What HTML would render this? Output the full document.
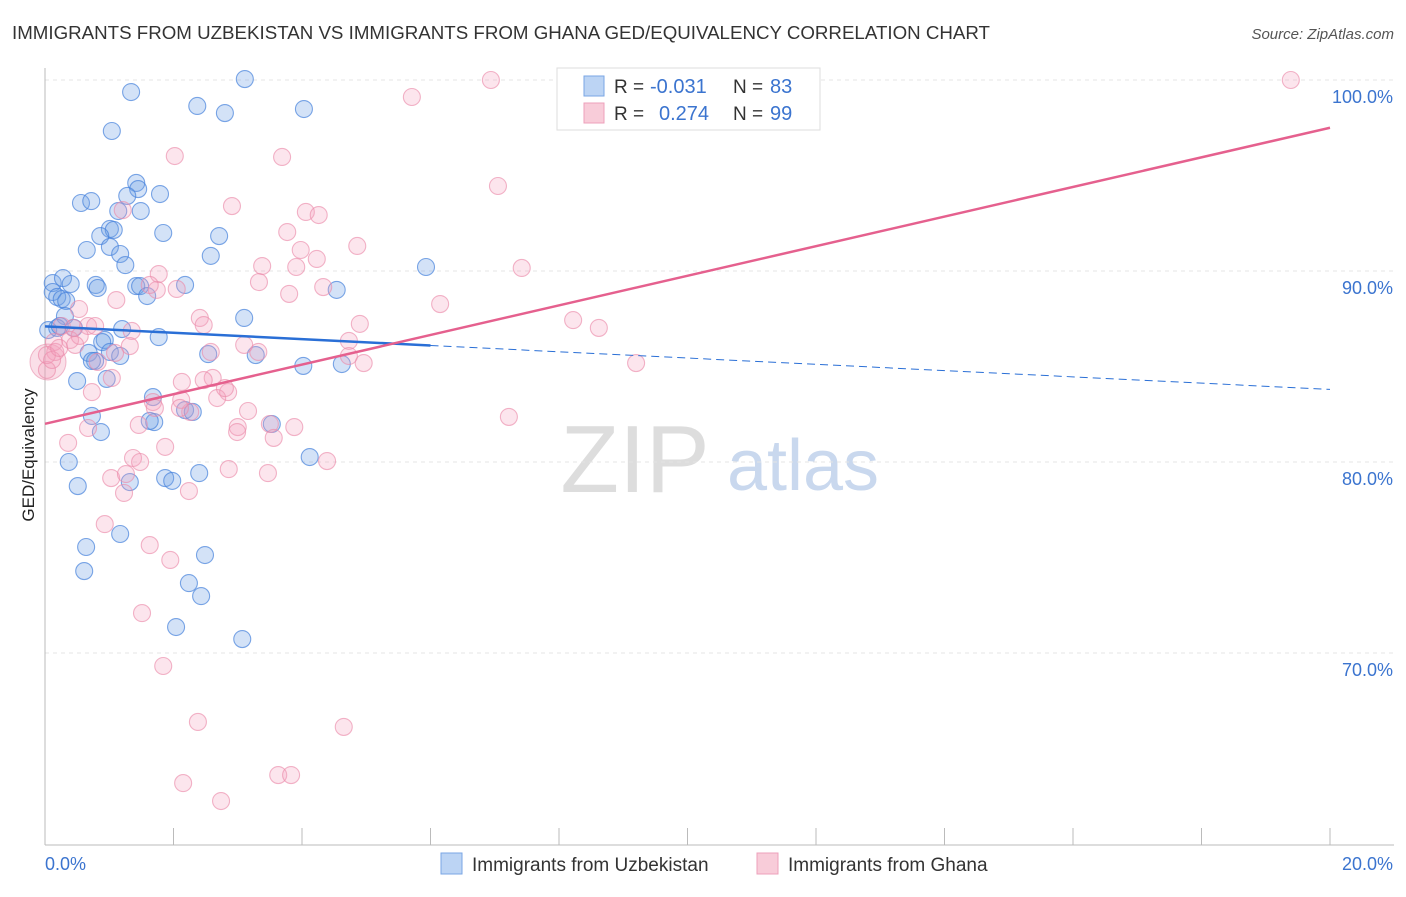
<!DOCTYPE html>
<html><head><meta charset="utf-8"><style>
body{margin:0;background:#fff;font-family:"Liberation Sans",sans-serif;}
svg text{font-family:"Liberation Sans",sans-serif;}
</style></head><body>
<svg id="c" width="1406" height="892" xmlns="http://www.w3.org/2000/svg">
<text x="12" y="39" font-size="18" fill="#333" textLength="978" lengthAdjust="spacingAndGlyphs">IMMIGRANTS FROM UZBEKISTAN VS IMMIGRANTS FROM GHANA GED/EQUIVALENCY CORRELATION CHART</text>
<text x="1394" y="39" font-size="15" fill="#555" font-style="italic" text-anchor="end">Source: ZipAtlas.com</text>
<text x="635" y="492" font-size="96" fill="#ddd" font-family="Liberation Serif" text-anchor="middle">ZIP</text>
<text x="803" y="490" font-size="72" fill="#c9d8ee" text-anchor="middle">atlas</text>
<text transform="translate(34,455) rotate(-90)" font-size="17" fill="#222" text-anchor="middle">GED/Equivalency</text>
<g id="grid"></g><g id="pts"></g><g id="trend"></g>
<g>
<rect x="557" y="68" width="263" height="62" fill="#fff" stroke="#ddd"/>
<rect x="584" y="76" width="20" height="20" fill="#bcd4f4" stroke="#7aa6e4"/>
<rect x="584" y="103" width="20" height="20" fill="#f8ccd9" stroke="#eea0bb"/>
<text x="614" y="93" font-size="19" fill="#333">R =</text>
<text x="650" y="93" font-size="20" fill="#3b74cf">-0.031</text>
<text x="733" y="93" font-size="19" fill="#333">N =</text>
<text x="770" y="93" font-size="20" fill="#3b74cf">83</text>
<text x="614" y="120" font-size="19" fill="#333">R =</text>
<text x="659" y="120" font-size="20" fill="#3b74cf">0.274</text>
<text x="733" y="120" font-size="19" fill="#333">N =</text>
<text x="770" y="120" font-size="20" fill="#3b74cf">99</text>
</g>
<g>
<rect x="441" y="853" width="21" height="21" fill="#bcd4f4" stroke="#7aa6e4"/>
<text x="472" y="871" font-size="19" fill="#333">Immigrants from Uzbekistan</text>
<rect x="757" y="853" width="21" height="21" fill="#f8ccd9" stroke="#eea0bb"/>
<text x="788" y="871" font-size="19" fill="#333">Immigrants from Ghana</text>
</g>
</svg>
<script>
const yTicks=[100,90,80,70];
const yTickLabels=["100.0%","90.0%","80.0%","70.0%"];
const xTickLabels=["0.0%","20.0%"];
const blueX=[3.11,1.34,2.37,2.80,4.03,1.04,1.42,1.45,1.28,1.79,0.56,0.72,1.14,1.49,1.01,1.07,1.84,0.86,2.71,0.65,1.01,1.17,2.58,1.25,5.93,0.12,0.28,0.40,0.79,0.82,1.42,1.48,2.18,1.59,4.54,0.12,0.19,0.26,0.33,0.31,3.10,1.20,0.05,0.19,0.23,0.45,1.77,0.93,0.89,0.68,0.78,2.54,3.28,1.01,4.02,4.62,0.96,0.50,1.68,1.70,1.63,2.18,2.30,0.73,0.87,0.37,4.12,2.40,1.87,1.98,1.32,0.51,1.17,0.64,2.49,0.61,2.24,2.43,2.04,3.07,3.53,0.73,1.17];
const blueY=[100.05,99.37,98.64,98.27,98.48,97.33,94.61,94.29,93.93,94.03,93.56,93.66,93.14,93.14,92.20,92.15,91.99,91.83,91.83,91.10,91.26,90.89,90.79,90.31,90.21,89.37,89.63,89.32,89.27,89.11,89.21,89.21,89.27,88.69,89.01,88.90,88.64,88.53,88.43,87.64,87.54,86.96,86.91,87.02,87.12,87.02,86.54,86.39,86.28,85.71,85.29,85.65,85.60,85.76,85.03,85.13,84.35,84.24,83.40,82.09,82.15,82.72,82.62,82.41,81.57,80.00,80.26,79.42,79.16,79.01,78.95,78.74,76.23,75.55,75.13,74.29,73.66,72.98,71.36,70.73,81.99,85.29,85.55];
const pinkX=[6.94,19.39,5.71,2.02,3.69,7.05,2.91,1.21,4.06,4.26,3.77,4.86,3.98,7.42,3.38,3.91,4.23,1.77,3.33,2.05,1.74,3.80,4.33,1.11,6.15,0.53,2.41,2.47,8.22,8.62,4.90,0.67,0.78,0.44,1.35,0.26,4.73,0.39,0.14,1.32,0.16,2.58,3.32,9.20,4.96,4.73,0.82,1.04,2.61,2.13,0.73,2.85,2.68,1.68,1.71,2.26,3.16,7.22,1.46,3.00,3.50,3.88,0.67,2.99,3.56,0.36,1.87,1.37,1.48,4.39,2.86,1.03,3.47,1.26,1.23,2.24,0.93,1.63,1.95,1.51,1.84,2.38,4.65,2.15,3.63,3.83,2.74,0.03,0.03,0.11,0.22,0.54,1.09,2.12,1.63,2.47,3.10,2.80,2.10,0.47];
const pinkY=[100.0,100.0,99.11,96.02,95.97,94.45,93.40,93.19,93.09,92.93,92.04,91.31,91.10,90.16,90.26,90.21,90.63,89.84,89.42,89.06,89.01,88.80,89.16,88.48,88.27,88.01,87.54,87.17,87.43,87.02,87.23,87.12,87.12,87.02,86.86,87.12,86.34,86.39,86.28,86.07,85.76,85.76,85.76,85.18,85.18,85.55,85.24,84.40,84.40,84.19,83.66,83.66,83.35,83.14,82.83,82.62,82.67,82.36,81.94,81.83,81.99,81.83,81.78,81.57,81.26,81.00,80.79,80.21,80.00,80.05,79.63,79.16,79.42,79.37,78.38,78.48,76.75,75.65,74.87,72.09,69.32,66.39,66.13,63.19,63.61,63.61,62.25,84.82,85.60,85.34,85.97,86.60,85.71,83.25,89.27,84.29,86.13,83.87,82.83,86.13];
const blueTrendX=[0,6,20];
const blueTrendY=[87.1,86.1,83.8];
const pinkTrendX=[0,20];
const pinkTrendY=[82.0,97.5];
const NS="http://www.w3.org/2000/svg";
const X=v=>45+v*64.25, Y=v=>80+(100-v)*19.1;
function mk(t,a,p){const e=document.createElementNS(NS,t);for(const k in a)e.setAttribute(k,a[k]);p.appendChild(e);return e;}
const grid=document.getElementById('grid');
for(let i=0;i<yTicks.length;i++){
 const l=mk('line',{x1:45,x2:1394,y1:Y(yTicks[i]),y2:Y(yTicks[i]),stroke:'#e4e4e4','stroke-dasharray':'4,4'},grid);
 
 
 const t=mk('text',{x:1393,y:Y(yTicks[i])+23,'font-size':18,fill:'#3b74cf','text-anchor':'end'},grid);
 t.textContent=yTickLabels[i];
 
 
}
mk('line',{x1:45,x2:45,y1:68,y2:845,stroke:'#bbb'},grid);
mk('line',{x1:45,x2:1394,y1:845,y2:845,stroke:'#bbb'},grid);
for(let i=0;i<=10;i++){mk('line',{x1:X(i*2),x2:X(i*2),y1:828,y2:845,stroke:'#bbb'},grid);}
const xl0=mk('text',{x:45,y:870,'font-size':18,fill:'#3b74cf'},grid);xl0.textContent=xTickLabels[0];


const xl1=mk('text',{x:1393,y:870,'font-size':18,fill:'#3b74cf','text-anchor':'end'},grid);xl1.textContent=xTickLabels[1];


const pts=document.getElementById('pts');
mk('circle',{cx:48,cy:362,r:18,fill:'rgba(240,150,180,0.3)',stroke:'rgba(232,140,170,0.6)'},pts);
for(let i=0;i<blueX.length;i++){const c=mk('circle',{cx:X(blueX[i]),cy:Y(blueY[i]),r:8.5,fill:'rgba(110,160,230,0.3)',stroke:'rgba(70,130,220,0.7)','stroke-width':1.1},pts);
 
 }
for(let i=0;i<pinkX.length;i++){const c=mk('circle',{cx:X(pinkX[i]),cy:Y(pinkY[i]),r:8.5,fill:'rgba(245,160,190,0.28)',stroke:'rgba(235,140,170,0.65)','stroke-width':1.1},pts);
 
 }
const tr=document.getElementById('trend');
const b1=mk('line',{x1:X(blueTrendX[0]),y1:Y(blueTrendY[0]),x2:X(blueTrendX[1]),y2:Y(blueTrendY[1]),stroke:'#2a6fd6','stroke-width':2.5},tr);


const b2=mk('line',{x1:X(blueTrendX[1]),y1:Y(blueTrendY[1]),x2:X(blueTrendX[2]),y2:Y(blueTrendY[2]),stroke:'#2a6fd6','stroke-width':1,'stroke-dasharray':'8,5'},tr);


const p1=mk('line',{x1:X(pinkTrendX[0]),y1:Y(pinkTrendY[0]),x2:X(pinkTrendX[1]),y2:Y(pinkTrendY[1]),stroke:'#e5608e','stroke-width':2.5},tr);


</script>
</body></html>
